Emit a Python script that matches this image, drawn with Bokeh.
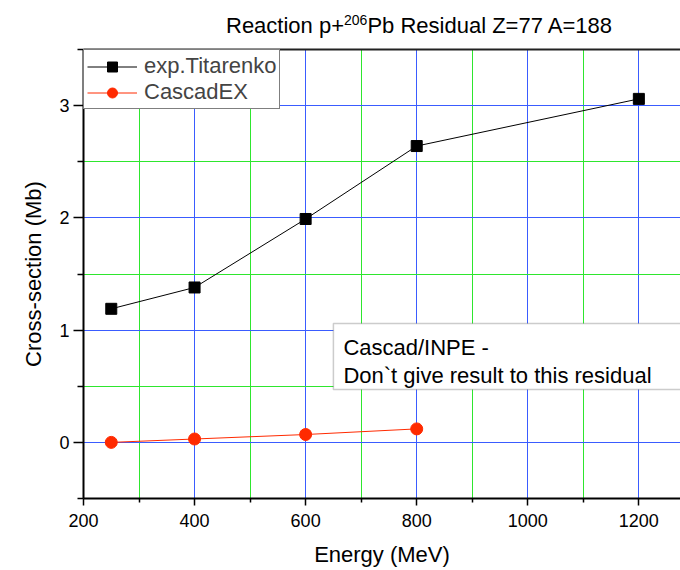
from bokeh.plotting import figure
from bokeh.models import (ColumnDataSource, FixedTicker, Label, BoxAnnotation,
                          Range1d, LinearAxis, Legend, LegendItem, Div)
from bokeh.layouts import column
from bokeh.embed import file_html
from bokeh.resources import INLINE

# ---- data ----
energy_exp = [250, 400, 600, 800, 1200]
xs_exp = [1.19, 1.38, 1.99, 2.64, 3.06]
energy_cas = [250, 400, 600, 800]
xs_cas = [0.0, 0.03, 0.07, 0.12]
x_major = [200, 400, 600, 800, 1000, 1200]
x_minor = [300, 500, 700, 900, 1100]
y_major = [0, 1, 2, 3]
y_minor = [-0.5, 0.5, 1.5, 2.5, 3.5]

FONT = "Liberation Sans"
BLUE = "#3a5cff"
GREEN = "#2ee62e"
RED = "#ff2a00"

DIV_H = 40
p = figure(width=680, height=570 - DIV_H, output_backend="svg", toolbar_location=None,
           x_range=Range1d(200, 1275), y_range=Range1d(-0.5, 3.5),
           min_border_left=83, min_border_right=0, min_border_top=49 - DIV_H,
           min_border_bottom=72, background_fill_color="white",
           border_fill_color="white")
p.outline_line_color = None

# axes
for ax in (p.xaxis[0], p.yaxis[0]):
    ax.axis_line_width = 2
    ax.axis_line_color = "black"
    ax.major_tick_line_color = "black"
    ax.minor_tick_line_color = "black"
    ax.major_tick_line_width = 1.5
    ax.minor_tick_line_width = 1.5
    ax.major_tick_in = 0
    ax.minor_tick_in = 0
    ax.major_label_text_font = FONT
    ax.major_label_text_font_size = "18px"
    ax.major_label_text_color = "black"
    ax.axis_label_text_font = FONT
    ax.axis_label_text_font_size = "22px"
    ax.axis_label_text_font_style = "normal"
    ax.axis_label_text_color = "black"

p.xaxis.ticker = FixedTicker(ticks=x_major, minor_ticks=x_minor)
p.yaxis.ticker = FixedTicker(ticks=y_major, minor_ticks=y_minor)
p.xaxis.major_tick_out = 7
p.xaxis.minor_tick_out = 4
p.yaxis.major_tick_out = 10
p.yaxis.minor_tick_out = 6
p.xaxis.major_label_standoff = 8
p.yaxis.major_label_standoff = 4
p.xaxis.axis_label = "Energy (MeV)"
p.yaxis.axis_label = "Cross-section (Mb)"
p.xaxis.axis_label_standoff = 12
p.yaxis.axis_label_standoff = 10

top = LinearAxis(ticker=FixedTicker(ticks=[]), major_tick_out=0, minor_tick_out=0,
                 major_label_text_font_size="0px", axis_line_width=2,
                 axis_line_color="#222222")
p.add_layout(top, "above")

# grids
for g in (p.xgrid[0], p.ygrid[0]):
    g.grid_line_color = BLUE
    g.grid_line_width = 1
    g.minor_grid_line_color = GREEN
    g.minor_grid_line_width = 1

# data
src_exp = ColumnDataSource(dict(x=energy_exp, y=xs_exp))
src_cas = ColumnDataSource(dict(x=energy_cas, y=xs_cas))
l1 = p.line("x", "y", source=src_exp, line_color="black", line_width=1)
m1 = p.scatter("x", "y", source=src_exp, marker="square", size=11,
               fill_color="black", line_color="black")
l2 = p.line("x", "y", source=src_cas, line_color=RED, line_width=1)
m2 = p.scatter("x", "y", source=src_cas, marker="circle", size=12,
               fill_color=RED, line_color=RED)

legend = Legend(items=[LegendItem(label="exp.Titarenko", renderers=[l1, m1]),
                       LegendItem(label="CascadEX", renderers=[l2, m2])],
                location="top_left", margin=0, padding=3, spacing=0,
                glyph_width=50, glyph_height=25, label_height=25,
                label_standoff=7, label_text_font=FONT,
                label_text_font_size="22px", border_line_color="black",
                border_line_width=1, background_fill_color="white",
                background_fill_alpha=1)
p.add_layout(legend, "center")

# note box
box = BoxAnnotation(left=650, right=1400, bottom=0.472, top=1.060,
                    fill_color="white", fill_alpha=1,
                    line_color="#555555", line_width=1.5, level="annotation")
p.add_layout(box)
for txt, yy in (("Cascad/INPE -", 0.846), ("Don`t give result to this residual", 0.597)):
    p.add_layout(Label(x=668, y=yy, text=txt, text_font=FONT, text_font_size="22px",
                       text_color="black", text_baseline="alphabetic"))

# title with superscript
title_html = (
    '<div style="position:relative;width:680px;height:%dpx;'
    "font-family:'Liberation Sans';font-size:22px;color:black;\">"
    '<span style="position:absolute;left:226px;top:13px;white-space:nowrap;line-height:25px;">'
    'Reaction p+<sup style="font-size:14px;line-height:0;vertical-align:8px;">206</sup>'
    'Pb Residual Z=77 A=188</span></div>' % DIV_H
)
title = Div(text=title_html, width=680, height=DIV_H, margin=0)

layout = column(title, p, spacing=0, margin=0)
open("out.html", "w").write(file_html(layout, INLINE))
